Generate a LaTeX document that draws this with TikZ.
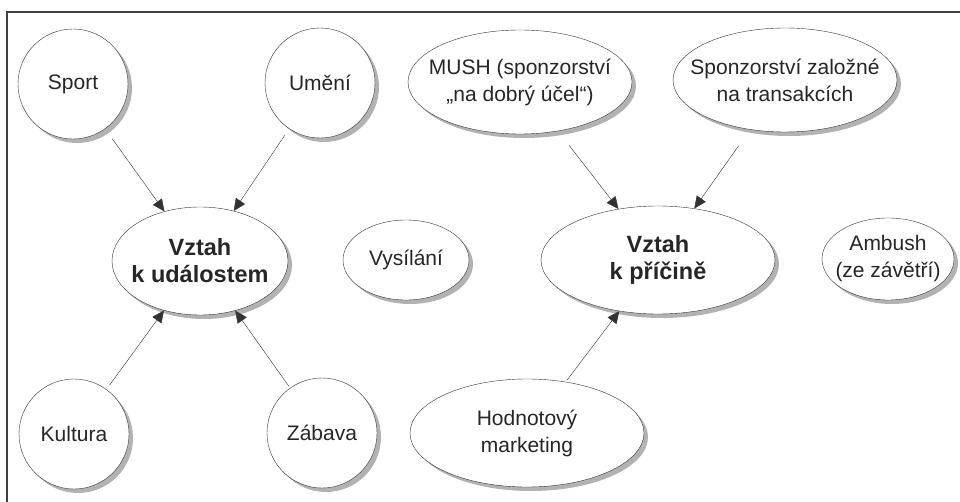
\documentclass[tikz,border=0pt]{standalone}
\usepackage{fontspec}
\setmainfont{Liberation Sans}
\usetikzlibrary{shapes.geometric, shadows, arrows.meta}
\begin{document}
\begin{tikzpicture}[
  x=1pt, y=-1pt,
  shade/.style={drop shadow={shadow xshift=4pt, shadow yshift=-4pt, fill=black!60}},
  topic/.style={circle, draw=black!80, fill=white, thin, shade, inner sep=0pt,
                minimum size=110pt, text=black!85, font=\fontsize{21}{27}\selectfont},
  form/.style={ellipse, draw=black!80, fill=white, thin, shade,
               inner xsep=-25pt, inner ysep=0pt,
               align=center, text=black!85, font=\fontsize{21}{27}\selectfont},
  hub/.style={form, font=\bfseries\fontsize{23.5}{27}\selectfont},
  arr/.style={-{Triangle[length=12pt, width=11pt]}, thin, black!80}
]
\useasboundingbox (0,0) rectangle (960,502);
% frame
\draw[black!75, line width=1.2pt] (7,510) -- (7,12) -- (970,12);
% LEFT: relation to events
\node[hub, minimum width=176pt, minimum height=108pt] (udalost) at (200,261)
  {Vztah\\k událostem};
\node[topic] (sport)   at (73,84)   {Sport};
\node[topic] (umeni)   at (320,83)  {Umění};
\node[topic] (kultura) at (74,434)  {Kultura};
\node[topic] (zabava)  at (322,433) {Zábava};
\draw[arr, shorten <=12pt] (sport)   -- (udalost);
\draw[arr, shorten <=8pt]  (umeni)   -- (udalost);
\draw[arr, shorten <=5pt]  (kultura) -- (udalost);
\draw[arr, shorten <=2pt]  (zabava)  -- (udalost);
% middle
\node[form, minimum width=126pt, minimum height=80pt] (vysilani) at (406,260)
  {Vysílání};
% RIGHT: relation to cause
\node[hub, minimum width=234pt, minimum height=108pt] (pricina) at (658,260)
  {Vztah\\k příčině};
\node[form, minimum width=224pt, minimum height=104pt] (mush) at (520,82)
  {MUSH (sponzorství\\„na dobrý účel“)};
\node[form, minimum width=224pt, minimum height=104pt] (transakce) at (785,80)
  {Sponzorství založné\\na transakcích};
\node[form, minimum width=234pt, minimum height=108pt] (hodnota) at (527,433)
  {Hodnotový\\marketing};
\node[form, minimum width=132pt, minimum height=82pt] (ambush) at (888,259)
  {Ambush\\(ze závětří)};
\draw[arr, shorten <=18pt] (mush)      -- (pricina);
\draw[arr, shorten <=20pt] (transakce) -- (pricina);
\draw[arr, shorten <=2pt]  (hodnota)   -- (pricina);
\end{tikzpicture}
\end{document}
